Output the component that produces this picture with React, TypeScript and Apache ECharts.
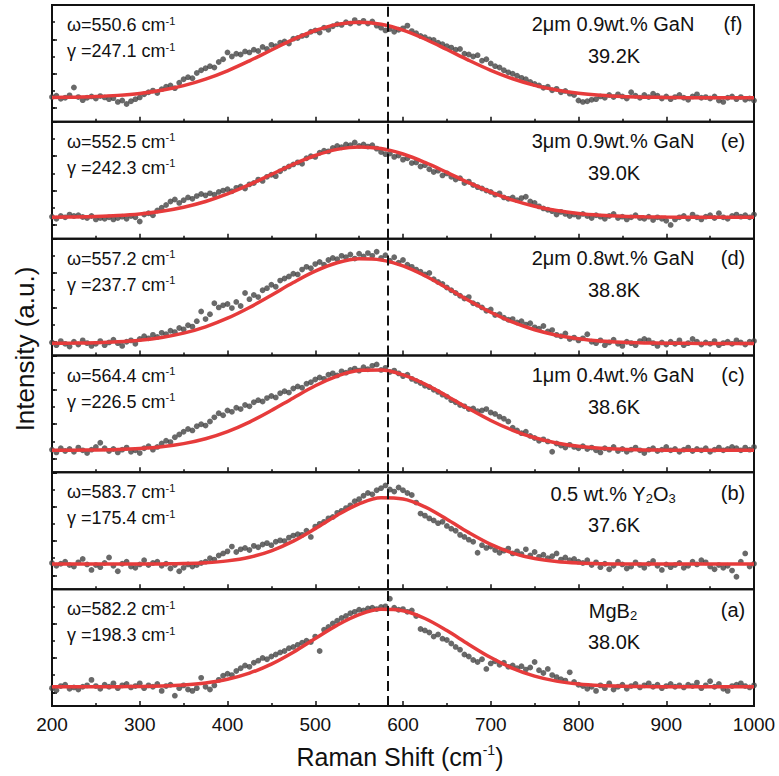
import { useEffect, useRef } from "react";
import * as echarts from "echarts";

// ---------- data ----------
const X_START = 200;
const SCATTER_STEP = 5;
const FIT_STEP = 25;
const DASH_X = 583;

const panelLetters = ["(f)", "(e)", "(d)", "(c)", "(b)", "(a)"];
const omegaValues = ["550.6", "552.5", "557.2", "564.4", "583.7", "582.2"];
const gammaValues = ["247.1", "242.3", "237.7", "226.5", "175.4", "198.3"];
const sampleLabels = [
  "{n|2μm 0.9wt.% GaN}",
  "{n|3μm 0.9wt.% GaN}",
  "{n|2μm 0.8wt.% GaN}",
  "{n|1μm 0.4wt.% GaN}",
  "{n|0.5 wt.% Y}{sub|2}{n|O}{sub|3}",
  "{n|MgB}{sub|2}",
];
const temperatures = ["39.2K", "39.0K", "38.8K", "38.6K", "37.6K", "38.0K"];

// scatter data, x = 200..1000 step 5
const scatterF = [
  0.72, 0.76, 0.67, 0.70, 0.77, 1.00, 0.72, 0.63, 0.70, 0.74,
  0.68, 0.75, 0.71, 0.66, 0.69, 0.58, 0.62, 0.52, 0.60, 0.66,
  0.71, 0.80, 0.86, 0.91, 0.84, 0.95, 1.02, 1.06, 0.98, 1.14,
  1.24, 1.30, 1.27, 1.42, 1.50, 1.56, 1.62, 1.58, 1.74, 1.82,
  2.02, 1.90, 1.98, 1.96, 2.05, 2.02, 2.10, 2.06, 2.18, 2.12,
  2.24, 2.20, 2.30, 2.34, 2.28, 2.42, 2.44, 2.50, 2.52, 2.62,
  2.66, 2.60, 2.74, 2.68, 2.78, 2.84, 2.82, 2.90, 2.86, 2.96,
  2.88, 2.94, 2.86, 2.92, 2.80, 2.74, 2.66, 2.70, 2.62, 2.68,
  2.72, 2.80, 2.64, 2.58, 2.50, 2.46, 2.40, 2.38, 2.30, 2.26,
  2.20, 2.16, 2.10, 2.12, 1.98, 1.96, 1.90, 1.94, 1.78, 1.82,
  1.70, 1.62, 1.58, 1.50, 1.44, 1.40, 1.34, 1.28, 1.24, 1.16,
  1.10, 1.06, 0.99, 1.02, 0.92, 0.96, 0.86, 0.90, 0.82, 0.78,
  0.62, 0.58, 0.60, 0.64, 0.66, 0.74, 0.70, 0.78, 0.72, 0.80,
  0.74, 0.68, 0.86, 0.76, 0.70, 0.78, 0.72, 0.82, 0.76, 0.68,
  0.74, 0.66, 0.72, 0.78, 0.70, 0.64, 0.74, 0.80, 0.70, 0.72,
  0.68, 0.74, 0.62, 0.58, 0.70, 0.74, 0.66, 0.72, 0.64, 0.68,
  0.62,
];
const scatterE = [
  0.64, 0.58, 0.66, 0.62, 0.70, 0.66, 0.68, 0.63, 0.60, 0.66,
  0.56, 0.60, 0.58, 0.62, 0.56, 0.60, 0.64, 0.58, 0.66, 0.62,
  0.50, 0.70, 0.74, 0.68, 0.82, 0.90, 0.98, 1.08, 1.14, 1.04,
  1.12, 1.20, 1.16, 1.24, 1.30, 1.26, 1.32, 1.28, 1.36, 1.40,
  1.44, 1.38, 1.48, 1.52, 1.46, 1.58, 1.62, 1.72, 1.68, 1.80,
  1.86, 1.82, 1.96, 2.04, 2.10, 2.16, 2.22, 2.18, 2.34, 2.40,
  2.38, 2.50, 2.56, 2.54, 2.64, 2.70, 2.66, 2.74, 2.72, 2.80,
  2.70, 2.74, 2.68, 2.72, 2.62, 2.52, 2.46, 2.48, 2.38, 2.42,
  2.30, 2.34, 2.20, 2.22, 2.10, 2.14, 2.02, 1.94, 1.98, 1.84,
  1.90, 1.80, 1.72, 1.76, 1.62, 1.66, 1.56, 1.50, 1.46, 1.40,
  1.36, 1.28, 1.32, 1.20, 1.16, 1.20, 1.12, 1.18, 1.22, 1.08,
  1.04, 0.94, 0.88, 0.84, 0.80, 0.70, 0.78, 0.72, 0.66, 0.70,
  0.64, 0.72, 0.66, 0.60, 0.68, 0.64, 0.58, 0.66, 0.72, 0.60,
  0.64, 0.56, 0.62, 0.68, 0.60, 0.58, 0.64, 0.54, 0.62, 0.58,
  0.52, 0.40, 0.56, 0.62, 0.66, 0.58, 0.70, 0.62, 0.56, 0.64,
  0.68, 0.60, 0.74, 0.62, 0.58, 0.66, 0.70, 0.64, 0.68, 0.62,
  0.70,
];
const scatterD = [
  0.38, 0.30, 0.42, 0.34, 0.26, 0.40, 0.32, 0.44, 0.36, 0.28,
  0.34, 0.42, 0.30, 0.38, 0.46, 0.36, 0.28, 0.40, 0.44, 0.34,
  0.48, 0.56, 0.50, 0.60, 0.54, 0.66, 0.62, 0.72, 0.68, 0.80,
  0.76, 0.88, 0.84, 1.00, 1.28, 1.06, 1.20, 1.52, 1.40, 1.46,
  1.50, 1.38, 1.56, 1.44, 1.82, 1.64, 1.76, 1.70, 1.90, 1.96,
  2.06, 2.00, 2.18, 2.24, 2.30, 2.38, 2.36, 2.50, 2.58, 2.54,
  2.66, 2.72, 2.64, 2.78, 2.84, 2.80, 2.90, 2.86, 2.94, 2.82,
  2.96, 2.88, 2.98, 2.90, 3.02, 2.84, 2.92, 2.76, 2.86, 2.70,
  2.78, 2.64, 2.58, 2.50, 2.44, 2.36, 2.40, 2.22, 2.14, 2.08,
  1.98, 1.90, 1.82, 1.74, 1.66, 1.70, 1.52, 1.48, 1.40, 1.30,
  1.34, 1.18, 1.20, 1.10, 1.04, 1.06, 0.96, 1.00, 0.90, 0.94,
  0.82, 0.78, 0.86, 0.70, 0.74, 0.60, 0.56, 0.64, 0.48, 0.52,
  0.44, 0.50, 0.62, 0.40, 0.36, 0.44, 0.30, 0.38, 0.46, 0.34,
  0.28, 0.40, 0.36, 0.30, 0.42, 0.48, 0.44, 0.36, 0.28, 0.38,
  0.32, 0.40, 0.34, 0.44, 0.30, 0.36, 0.48, 0.40, 0.32, 0.38,
  0.34, 0.42, 0.30, 0.36, 0.40, 0.34, 0.44, 0.38, 0.32, 0.40,
  0.42,
];
const scatterC = [
  0.66, 0.58, 0.70, 0.62, 0.68, 0.60, 0.72, 0.64, 0.56, 0.66,
  0.74, 0.86, 0.70, 0.62, 0.68, 0.58, 0.66, 0.72, 0.60, 0.64,
  0.56, 0.70, 0.76, 0.66, 0.74, 0.84, 0.92, 0.88, 1.02, 1.10,
  1.18, 1.26, 1.22, 1.34, 1.40, 1.36, 1.48, 1.60, 1.72, 1.66,
  1.80, 1.76, 1.88, 1.84, 1.96, 1.92, 2.04, 2.10, 2.06, 2.16,
  2.22, 2.18, 2.30, 2.36, 2.32, 2.44, 2.50, 2.46, 2.58, 2.62,
  2.70, 2.76, 2.72, 2.84, 2.88, 2.82, 2.94, 2.90, 2.98, 3.02,
  2.96, 3.06, 3.00, 3.10, 3.14, 2.98, 3.04, 2.92, 2.96, 2.88,
  2.80, 2.84, 2.72, 2.66, 2.60, 2.52, 2.48, 2.40, 2.34, 2.26,
  2.20, 2.10, 2.04, 1.96, 1.92, 1.84, 1.86, 1.78, 1.80, 1.84,
  1.74, 1.70, 1.62, 1.56, 1.48, 1.30, 1.22, 1.14, 1.18, 1.06,
  1.00, 0.92, 0.96, 0.90, 0.60, 0.84, 0.78, 0.72, 0.80, 0.74,
  0.70, 0.76, 0.68, 0.72, 0.64, 0.58, 0.70, 0.66, 0.74, 0.62,
  0.68, 0.60, 0.66, 0.72, 0.64, 0.56, 0.66, 0.70, 0.62, 0.66,
  0.74, 0.64, 0.68, 0.60, 0.66, 0.72, 0.62, 0.68, 0.64, 0.70,
  0.60, 0.66, 0.72, 0.64, 0.68, 0.74, 0.70, 0.64, 0.72, 0.66,
  0.74,
];
const scatterB = [
  0.76, 0.68, 0.74, 0.80, 0.70, 0.66, 0.78, 0.88, 0.72, 0.56,
  0.70, 0.64, 0.76, 0.92, 0.68, 0.52, 0.74, 0.80, 0.66, 0.62,
  0.72, 0.84, 0.70, 0.76, 0.80, 0.68, 0.74, 0.60, 0.70, 0.52,
  0.62, 0.72, 0.66, 0.70, 0.76, 0.80, 0.90, 0.86, 0.98, 1.04,
  1.10, 1.24, 1.08, 1.16, 1.20, 1.14, 1.26, 1.22, 1.30, 1.34,
  1.28, 1.38, 1.42, 1.40, 1.50, 1.56, 1.60, 1.58, 1.70, 1.52,
  1.82, 1.90, 1.96, 2.06, 2.10, 2.22, 2.28, 2.36, 2.44, 2.56,
  2.62, 2.72, 2.80, 2.76, 2.88, 2.94, 3.02, 2.90, 2.84, 2.96,
  2.88, 2.80, 2.74, 2.52, 2.20, 2.14, 2.06, 2.00, 1.92, 1.96,
  1.84, 1.76, 1.70, 1.58, 1.52, 1.44, 1.38, 1.06, 1.28, 1.20,
  1.24, 1.14, 1.06, 1.12, 1.18, 1.04, 1.10, 1.02, 1.16, 0.98,
  1.08, 0.94, 1.00, 0.90, 0.96, 1.04, 0.86, 0.92, 0.84, 0.88,
  0.80, 0.76, 0.84, 0.70, 0.78, 0.64, 0.74, 0.58, 0.68, 0.80,
  0.72, 0.60, 0.66, 0.78, 0.70, 0.62, 0.74, 0.82, 0.68, 0.56,
  0.72, 0.64, 0.70, 0.76, 0.62, 0.68, 0.80, 0.72, 0.84, 0.78,
  0.66, 0.58, 0.70, 0.62, 0.68, 0.54, 0.36, 0.80, 1.04, 0.66,
  0.74,
];
const scatterA = [
  0.52, 0.46, 0.58, 0.62, 0.50, 0.54, 0.48, 0.56, 0.60, 0.76,
  0.58, 0.50, 0.62, 0.56, 0.66, 0.52, 0.60, 0.64, 0.54, 0.58,
  0.66, 0.52, 0.60, 0.56, 0.64, 0.44, 0.58, 0.62, 0.30, 0.52,
  0.60, 0.48, 0.44, 0.52, 0.82, 0.56, 0.48, 0.60, 0.76, 0.88,
  0.94, 0.90, 1.02, 1.10, 1.18, 1.14, 1.26, 1.32, 1.40, 1.36,
  1.44, 1.50, 1.56, 1.60, 1.68, 1.72, 1.78, 1.84, 1.90, 1.86,
  2.02, 1.60, 2.22, 2.30, 2.40, 2.48, 2.56, 2.62, 2.70, 2.74,
  2.80, 2.78, 2.84, 2.86, 2.82, 2.88, 2.90, 3.12, 2.86, 2.80,
  2.82, 2.74, 2.78, 2.62, 2.24, 2.20, 2.14, 2.02, 2.08, 1.96,
  1.92, 1.82, 1.72, 1.64, 1.50, 1.44, 1.34, 1.28, 1.36, 1.08,
  1.24, 1.30, 1.20, 1.26, 1.14, 1.18, 1.10, 1.16, 1.06, 1.12,
  1.28, 1.04, 0.96, 1.08, 0.90, 0.84, 0.78, 0.74, 0.98, 0.70,
  0.62, 0.58, 0.50, 0.56, 0.44, 0.60, 0.52, 0.66, 0.48, 0.56,
  0.62, 0.50, 0.58, 0.64, 0.54, 0.60, 0.66, 0.56, 0.62, 0.52,
  0.58, 0.64, 0.56, 0.60, 0.54, 0.62, 0.58, 0.68, 0.52, 0.60,
  0.72, 0.56, 0.64, 0.50, 0.44, 0.58, 0.62, 0.66, 0.58, 0.54,
  0.60,
];

// fitted curves, x = 200..1000 step 25
const fitF = [0.708, 0.718, 0.736, 0.770, 0.827, 0.918, 1.054, 1.243, 1.485, 1.775, 2.090, 2.397, 2.658, 2.836, 2.900, 2.841, 2.669, 2.411, 2.105, 1.790, 1.499, 1.253, 1.062, 0.924, 0.830, 0.772, 0.737, 0.718, 0.709, 0.704, 0.702, 0.701, 0.700];
const fitE = [0.626, 0.633, 0.647, 0.674, 0.721, 0.798, 0.916, 1.083, 1.303, 1.571, 1.868, 2.164, 2.420, 2.598, 2.670, 2.622, 2.463, 2.219, 1.929, 1.629, 1.354, 1.123, 0.945, 0.818, 0.734, 0.682, 0.651, 0.635, 0.627, 0.623, 0.621, 0.620, 0.620];
const fitD = [0.355, 0.361, 0.374, 0.400, 0.446, 0.525, 0.650, 0.834, 1.085, 1.398, 1.755, 2.123, 2.454, 2.698, 2.814, 2.782, 2.608, 2.321, 1.969, 1.600, 1.258, 0.970, 0.749, 0.591, 0.487, 0.423, 0.387, 0.367, 0.358, 0.353, 0.351, 0.350, 0.350];
const fitC = [0.642, 0.645, 0.651, 0.665, 0.694, 0.746, 0.836, 0.978, 1.185, 1.462, 1.799, 2.166, 2.518, 2.801, 2.964, 2.976, 2.834, 2.567, 2.222, 1.853, 1.510, 1.223, 1.005, 0.854, 0.757, 0.700, 0.669, 0.653, 0.645, 0.642, 0.641, 0.640, 0.640];
const fitB = [0.730, 0.730, 0.730, 0.730, 0.731, 0.735, 0.744, 0.768, 0.823, 0.930, 1.117, 1.399, 1.762, 2.152, 2.481, 2.657, 2.624, 2.394, 2.035, 1.645, 1.303, 1.051, 0.890, 0.802, 0.759, 0.740, 0.733, 0.731, 0.730, 0.730, 0.730, 0.730, 0.730];
const fitA = [0.560, 0.560, 0.561, 0.563, 0.568, 0.581, 0.610, 0.670, 0.778, 0.956, 1.219, 1.565, 1.963, 2.354, 2.661, 2.812, 2.770, 2.546, 2.194, 1.792, 1.410, 1.097, 0.870, 0.724, 0.640, 0.595, 0.574, 0.565, 0.562, 0.561, 0.560, 0.560, 0.560];

const scatterSets = [scatterF, scatterE, scatterD, scatterC, scatterB, scatterA];
const fitSets = [fitF, fitE, fitD, fitC, fitB, fitA];

const Y_MIN = 0;
const Y_MAX = 3.4;

// ---------- layout ----------
const W = 779;
const H = 776;
const PLOT_LEFT = 52;
const PLOT_RIGHT = 754;
const PLOT_TOP = 5;
const PLOT_BOTTOM = 706;
const FONT = "'Liberation Sans', Arial, Helvetica, sans-serif";
const INK = "#111111";
const DOT = "#444444";
const RED = "#e63b3b";

export default function App() {
  const ref = useRef<HTMLDivElement>(null);

  useEffect(() => {
    if (!ref.current) return;
    const chart = echarts.init(ref.current, undefined, { renderer: "svg" });
    const n = 6;
    const ph = (PLOT_BOTTOM - PLOT_TOP) / n;
    const grids: any[] = [];
    const xAxes: any[] = [];
    const yAxes: any[] = [];
    const series: any[] = [];
    const graphics: any[] = [];

    for (let i = 0; i < n; i++) {
      const top = PLOT_TOP + i * ph;
      grids.push({
        left: PLOT_LEFT,
        width: PLOT_RIGHT - PLOT_LEFT,
        top,
        height: ph,
        show: true,
        borderColor: INK,
        borderWidth: 2,
        backgroundColor: "transparent",
      });
      xAxes.push({
        type: "value",
        gridIndex: i,
        position: "bottom",
        min: 200,
        max: 1000,
        interval: 100,
        axisLine: { show: false, onZero: false },
        axisTick: { show: true, inside: true, length: 5, lineStyle: { color: INK, width: 1.5 } },
        minorTick: { show: true, splitNumber: 2, length: 3, lineStyle: { color: INK, width: 1.5 } },
        splitLine: { show: false },
        axisLabel: {
          show: i === n - 1,
          fontSize: 19,
          fontFamily: FONT,
          color: INK,
          margin: 9,
          formatter: (v: number) => String(v),
        },
      });
      // data axis (no ticks)
      yAxes.push({
        type: "value",
        gridIndex: i,
        position: "left",
        min: Y_MIN,
        max: Y_MAX,
        axisLine: { show: false, onZero: false },
        axisLabel: { show: false },
        splitLine: { show: false },
        axisTick: { show: false },
      });
      // tick axes, counted from the top of each panel
      yAxes.push({
        type: "value",
        gridIndex: i,
        position: "left",
        offset: 0,
        inverse: true,
        min: 0,
        max: Y_MAX - Y_MIN,
        interval: 0.5,
        axisLine: { show: false, onZero: false },
        axisLabel: { show: false },
        splitLine: { show: false },
        axisTick: { show: true, inside: true, length: 3, lineStyle: { color: INK, width: 1.5 } },
      });
      yAxes.push({
        type: "value",
        gridIndex: i,
        position: "left",
        offset: 0,
        inverse: true,
        min: 0,
        max: Y_MAX - Y_MIN,
        interval: 1,
        axisLine: { show: false, onZero: false },
        axisLabel: { show: false },
        splitLine: { show: false },
        axisTick: { show: true, inside: true, length: 5, lineStyle: { color: INK, width: 1.5 } },
      });

      series.push({
        type: "scatter",
        xAxisIndex: i,
        yAxisIndex: 3 * i,
        symbol: "circle",
        symbolSize: 5.8,
        itemStyle: { color: DOT },
        silent: true,
        z: 2,
        data: scatterSets[i].map((v, k) => [X_START + k * SCATTER_STEP, v]),
      });
      series.push({
        type: "line",
        xAxisIndex: i,
        yAxisIndex: 3 * i,
        smooth: 0.35,
        showSymbol: false,
        silent: true,
        z: 3,
        lineStyle: { color: RED, width: 3.5 },
        data: fitSets[i].map((v, k) => [X_START + k * FIT_STEP, v]),
        markLine: {
          silent: true,
          symbol: ["none", "none"],
          label: { show: false },
          lineStyle: { color: INK, width: 2, type: [10, 5] },
          data: [{ xAxis: DASH_X }],
          z: 4,
        },
      });

      const isB = i >= 4;
      const supStyle = { fontSize: 11, fontFamily: FONT, fill: INK, verticalAlign: "top", lineHeight: 12 };
      const baseStyle = { fontSize: 18, fontFamily: FONT, fill: INK, lineHeight: 20 };
      graphics.push({
        type: "text",
        x: 67,
        y: top + 20,
        style: {
          text: `{n|ω=${omegaValues[i]} cm}{sup|-1}`,
          rich: { n: baseStyle, sup: supStyle },
          align: "left",
          verticalAlign: "middle",
          fill: INK,
        },
      });
      graphics.push({
        type: "text",
        x: 67,
        y: top + 46,
        style: {
          text: `{n|γ =${gammaValues[i]} cm}{sup|-1}`,
          rich: { n: baseStyle, sup: supStyle },
          align: "left",
          verticalAlign: "middle",
          fill: INK,
        },
      });
      graphics.push({
        type: "text",
        x: 613,
        y: top + (isB ? 22 : 19),
        style: {
          text: sampleLabels[i],
          rich: {
            n: { fontSize: 20, fontFamily: FONT, fill: INK, lineHeight: 22 },
            sub: { fontSize: 13, fontFamily: FONT, fill: INK, verticalAlign: "bottom", lineHeight: 13 },
          },
          align: "center",
          verticalAlign: "middle",
          fill: INK,
        },
      });
      graphics.push({
        type: "text",
        x: 614,
        y: top + (isB ? 53 : 51),
        style: {
          text: temperatures[i],
          fontSize: 20,
          fontFamily: FONT,
          fill: INK,
          align: "center",
          verticalAlign: "middle",
        },
      });
      graphics.push({
        type: "text",
        x: 733,
        y: top + (isB ? 21 : 19),
        style: {
          text: panelLetters[i],
          fontSize: 20,
          fontFamily: FONT,
          fill: INK,
          align: "center",
          verticalAlign: "middle",
        },
      });
    }

    graphics.push({
      type: "text",
      x: 400,
      y: 757,
      style: {
        text: "{n|Raman Shift (cm}{sup|-1}{n|)}",
        rich: {
          n: { fontSize: 25, fontFamily: FONT, fill: INK, lineHeight: 28 },
          sup: { fontSize: 14, fontFamily: FONT, fill: INK, verticalAlign: "top", lineHeight: 15 },
        },
        align: "center",
        verticalAlign: "middle",
        fill: INK,
      },
    });
    graphics.push({
      type: "text",
      x: 25,
      y: 349,
      rotation: Math.PI / 2,
      style: {
        text: "Intensity (a.u.)",
        fontSize: 26,
        fontFamily: FONT,
        fill: INK,
        align: "center",
        verticalAlign: "middle",
      },
    });

    chart.setOption({
      animation: false,
      backgroundColor: "#ffffff",
      grid: grids,
      xAxis: xAxes,
      yAxis: yAxes,
      series,
      graphic: graphics,
    });

    return () => chart.dispose();
  }, []);

  return (
    <div
      ref={ref}
      style={{ position: "absolute", left: 0, top: 0, width: W, height: H }}
    />
  );
}
